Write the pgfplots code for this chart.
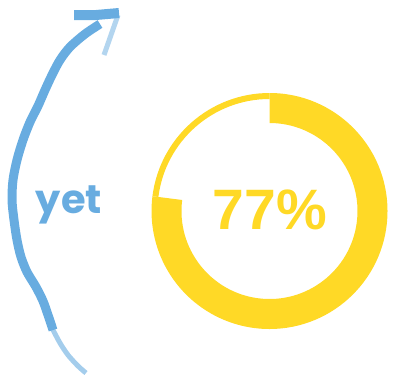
\documentclass[border=0pt]{standalone}
\usepackage{pgfplots}
\pgfplotsset{compat=1.18}
\usepackage{fontspec}
\setmainfont{Liberation Sans}
\newfontfamily\handfont{Poppins}
\definecolor{donut}{RGB}{255,217,38}
\definecolor{chalk}{RGB}{104,172,224}
\pgfmathsetmacro\pct{77}
\begin{document}
\begin{tikzpicture}
\begin{axis}[
  width=401pt, height=375pt, scale only axis,
  xmin=0, xmax=401, ymin=0, ymax=375, y dir=reverse,
  hide axis, clip=false,
]
\addplot[draw=none] coordinates {(0,0) (401,375)};
% donut (value 77 %)
\pgfmathsetmacro\endang{90-3.6*\pct}
\fill[donut] (axis cs:269.5,211) ++(90:118pt) arc[start angle=90,end angle=\endang,radius=118pt]
   -- ++(\endang:-30pt) arc[start angle=\endang,end angle=90,radius=88pt] -- cycle;
\fill[donut] (axis cs:269.5,211) ++(\endang:118pt) arc[start angle=\endang,end angle=-270,radius=118pt]
   -- ++(90:-6pt) arc[start angle=-270,end angle=\endang,radius=112pt] -- cycle;
\node[anchor=base, text=donut, inner sep=0pt] at (axis cs:270,229)
  {\fontsize{57}{60}\selectfont\bfseries 77\%};
% hand drawn arrow
\addplot[chalk, line width=9pt, smooth, line join=round] coordinates {
 (100,24) (85,34) (70,47) (60,60) (52,75) (45,90) (38,106) (30,122) (23,140) (17,160)
 (13,180) (12,200) (14,220) (17,240) (21,257) (27,272) (36,287) (43,301) (48,315) (53,330)};
\addplot[chalk, line width=5pt, smooth, opacity=0.6] coordinates {
 (52,328) (60,343) (68,355) (78,366) (86,373)};
\addplot[chalk, line width=10pt] coordinates {(74,15) (96,15) (119,13)};
\addplot[chalk, line width=5pt, opacity=0.5] coordinates {(118,15) (111,35) (104,55)};
\node[anchor=base, text=chalk, inner sep=0pt] at (axis cs:69,213)
  {\fontsize{40}{44}\selectfont\handfont\bfseries yet};
\end{axis}
\end{tikzpicture}
\end{document}
